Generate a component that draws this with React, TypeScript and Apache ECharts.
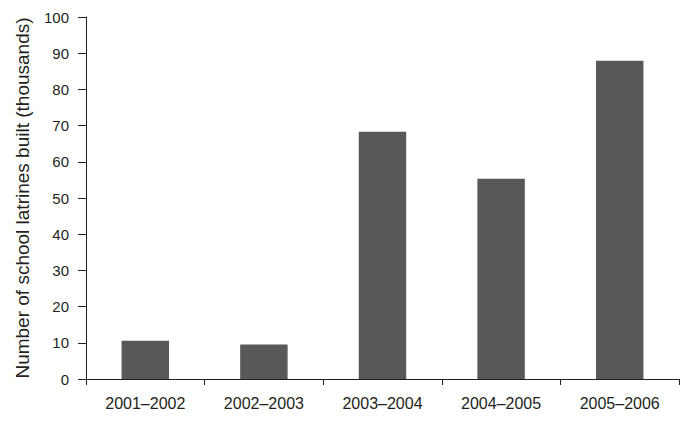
import React, { useEffect, useRef } from "react";
import * as echarts from "echarts";

const categories = ["2001–2002", "2002–2003", "2003–2004", "2004–2005", "2005–2006"];
const latrines = [10.6, 9.5, 68.3, 55.3, 87.9];
const yAxisName = "Number of school latrines built (thousands)";

export default function App() {
  const ref = useRef<HTMLDivElement>(null);
  useEffect(() => {
    const chart = echarts.init(ref.current!, null, { renderer: "svg" });
    const font = "'Liberation Sans', Arial, Helvetica, sans-serif";
    chart.setOption({
      animation: false,
      backgroundColor: "#ffffff",
      grid: { left: 86, right: 10, top: 17, bottom: 47 },
      xAxis: {
        type: "category",
        data: categories,
        axisLine: { lineStyle: { color: "#231f20", width: 1 } },
        axisTick: { show: true, length: 6, lineStyle: { color: "#231f20" } },
        axisLabel: { color: "#231f20", fontSize: 16, fontFamily: font, margin: 16 },
      },
      yAxis: {
        type: "value",
        min: 0,
        max: 100,
        interval: 10,
        name: yAxisName,
        nameLocation: "middle",
        nameGap: 54,
        nameTextStyle: { color: "#231f20", fontSize: 19, fontFamily: font },
        axisLine: { show: true, lineStyle: { color: "#231f20", width: 1 } },
        axisTick: { show: true, length: 8, lineStyle: { color: "#231f20" } },
        axisLabel: { color: "#231f20", fontSize: 15, fontFamily: font, margin: 17 },
        splitLine: { show: false },
      },
      series: [
        {
          type: "bar",
          data: latrines,
          barWidth: "40%",
          itemStyle: { color: "#58585a" },
        },
      ],
    });
    return () => chart.dispose();
  }, []);
  return <div ref={ref} style={{ width: 689, height: 426, position: "absolute", left: 0, top: 0 }} />;
}
